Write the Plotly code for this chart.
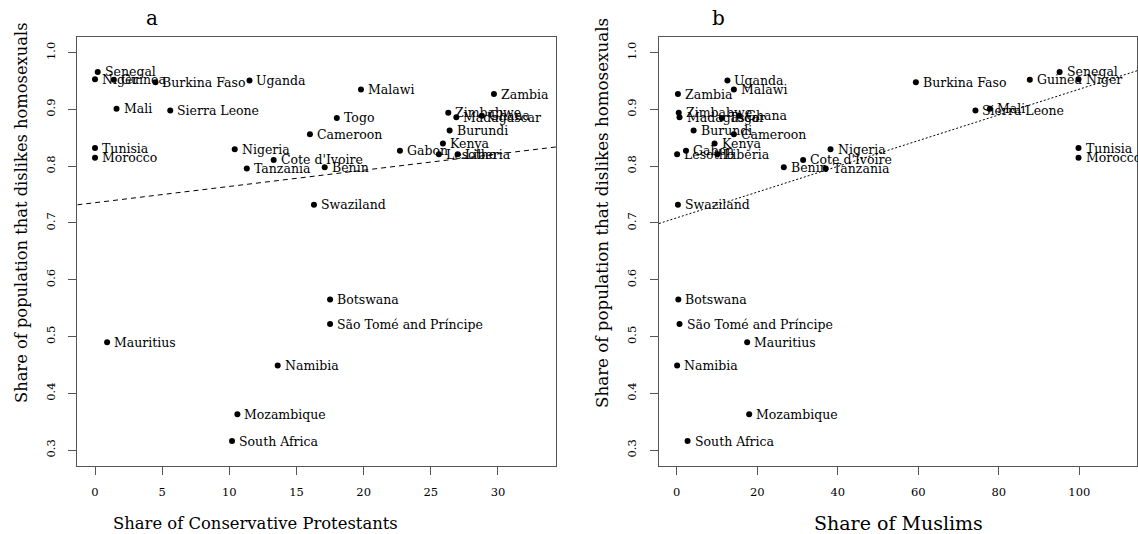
import plotly.graph_objects as go

countries = [
    "Senegal", "Niger", "Guinea", "Burkina Faso", "Uganda", "Mali", "Sierra Leone",
    "Tunisia", "Morocco", "Nigeria", "Cote d'Ivoire", "Tanzania", "Cameroon", "Malawi",
    "Zambia", "Togo", "Zimbabwe", "Madagascar", "Ghana", "Burundi", "Kenya", "Gabon",
    "Lesotho", "Liberia", "Benin", "Swaziland", "Botswana", "São Tomé and Príncipe",
    "Mauritius", "Namibia", "Mozambique", "South Africa",
]
dislike_share = [
    0.966, 0.953, 0.952, 0.948, 0.951, 0.901, 0.898,
    0.832, 0.815, 0.830, 0.811, 0.796, 0.856, 0.935,
    0.927, 0.885, 0.894, 0.886, 0.889, 0.863, 0.840, 0.827,
    0.821, 0.821, 0.798, 0.732, 0.565, 0.522,
    0.490, 0.449, 0.363, 0.316,
]
cons_protestant = [
    0.2, 0.0, 1.4, 4.5, 11.5, 1.6, 5.6,
    0.0, 0.0, 10.4, 13.3, 11.3, 16.0, 19.8,
    29.7, 18.0, 26.3, 26.9, 28.8, 26.4, 25.9, 22.7,
    25.6, 27.0, 17.1, 16.3, 17.5, 17.5,
    0.9, 13.6, 10.6, 10.2,
]
muslim = [
    95.1, 99.8, 87.7, 59.4, 12.6, 77.8, 74.2,
    99.8, 99.8, 38.2, 31.4, 37.0, 14.2, 14.2,
    0.3, 11.2, 0.5, 0.7, 15.5, 4.2, 9.4, 2.3,
    0.1, 10.1, 26.6, 0.3, 0.4, 0.7,
    17.5, 0.1, 18.0, 2.7,
]

# fitted regression coefficients (intercept, slope) for each panel
fit_protestant = (0.7357, 0.00286)
fit_muslim = (0.709, 0.002266)

x1_range = [-1.32, 34.32]
x2_range = [-4.4, 114.4]
y_range = [0.272, 1.028]

SERIF = "DejaVu Serif"
W, H = 1138, 534

fig = go.Figure()

# scatter points
fig.add_trace(go.Scatter(x=cons_protestant, y=dislike_share, mode="markers",
                         marker=dict(color="black", size=6), xaxis="x", yaxis="y",
                         showlegend=False, hoverinfo="skip"))
fig.add_trace(go.Scatter(x=muslim, y=dislike_share, mode="markers",
                         marker=dict(color="black", size=6), xaxis="x2", yaxis="y2",
                         showlegend=False, hoverinfo="skip"))

# regression lines spanning each panel
a1, b1 = fit_protestant
a2, b2 = fit_muslim
fig.add_trace(go.Scatter(x=x1_range, y=[a1 + b1 * v for v in x1_range], mode="lines",
                         line=dict(color="black", width=1, dash="5px,4px"),
                         xaxis="x", yaxis="y", showlegend=False, hoverinfo="skip"))
fig.add_trace(go.Scatter(x=x2_range, y=[a2 + b2 * v for v in x2_range], mode="lines",
                         line=dict(color="black", width=1, dash="2px,2px"),
                         xaxis="x2", yaxis="y2", showlegend=False, hoverinfo="skip"))

annotations = []
for name, xv, yv in zip(countries, cons_protestant, dislike_share):
    annotations.append(dict(x=xv, y=yv, xref="x", yref="y", text=name, showarrow=False,
                            xanchor="left", yanchor="middle", xshift=5,
                            font=dict(family=SERIF, size=12.5, color="black")))
for name, xv, yv in zip(countries, muslim, dislike_share):
    annotations.append(dict(x=xv, y=yv, xref="x2", yref="y2", text=name, showarrow=False,
                            xanchor="left", yanchor="middle", xshift=5,
                            font=dict(family=SERIF, size=12.5, color="black")))

def px(x):
    return x / W

def py(y):
    return 1 - y / H

def paper_text(x, y, text, size, angle=0):
    return dict(x=px(x), y=py(y), xref="paper", yref="paper", text=text, showarrow=False,
                xanchor="center", yanchor="middle", textangle=angle,
                font=dict(family=SERIF, size=size, color="black"))

# panel letters and axis titles
annotations += [
    paper_text(152, 18, "a", 20),
    paper_text(718, 18, "b", 20),
    paper_text(256, 523, "Share of Conservative Protestants", 16.4),
    paper_text(898, 523, "Share of Muslims", 19),
    paper_text(21, 213, "Share of population that dislikes homosexuals", 16.3, -90),
    paper_text(602, 213, "Share of population that dislikes homosexuals", 16.7, -90),
]

axis_common = dict(showgrid=False, zeroline=False, showline=True, mirror=True,
                   linecolor="#555", linewidth=1, ticks="outside", ticklen=8,
                   tickcolor="#555", tickwidth=1, automargin=False,
                   tickfont=dict(family=SERIF, size=11.5, color="black"))

y_ticks = [0.3, 0.4, 0.5, 0.6, 0.7, 0.8, 0.9, 1.0]
y_labels = ["0.3", "0.4", "0.5", "0.6", "0.7", "0.8", "0.9", "1.0"]

y_dom = [(H - 466) / H, (H - 36.7) / H]
fig.update_layout(
    width=W, height=H,
    margin=dict(l=0, r=0, t=0, b=0),
    paper_bgcolor="white", plot_bgcolor="white",
    xaxis=dict(domain=[77.3 / W, 556 / W], range=x1_range, tickvals=[0, 5, 10, 15, 20, 25, 30],
               anchor="y", ticklabelstandoff=7, **axis_common),
    yaxis=dict(domain=y_dom, range=y_range, tickvals=y_ticks, ticktext=y_labels,
               tickangle=-90, anchor="x", ticklabelstandoff=9, **axis_common),
    xaxis2=dict(domain=[659 / W, 1137.3 / W], range=x2_range, tickvals=[0, 20, 40, 60, 80, 100],
                anchor="y2", ticklabelstandoff=7, **axis_common),
    yaxis2=dict(domain=y_dom, range=y_range, tickvals=y_ticks, ticktext=y_labels,
                tickangle=-90, anchor="x2", ticklabelstandoff=9, **axis_common),
    annotations=annotations,
)

fig.write_html("out.html")
